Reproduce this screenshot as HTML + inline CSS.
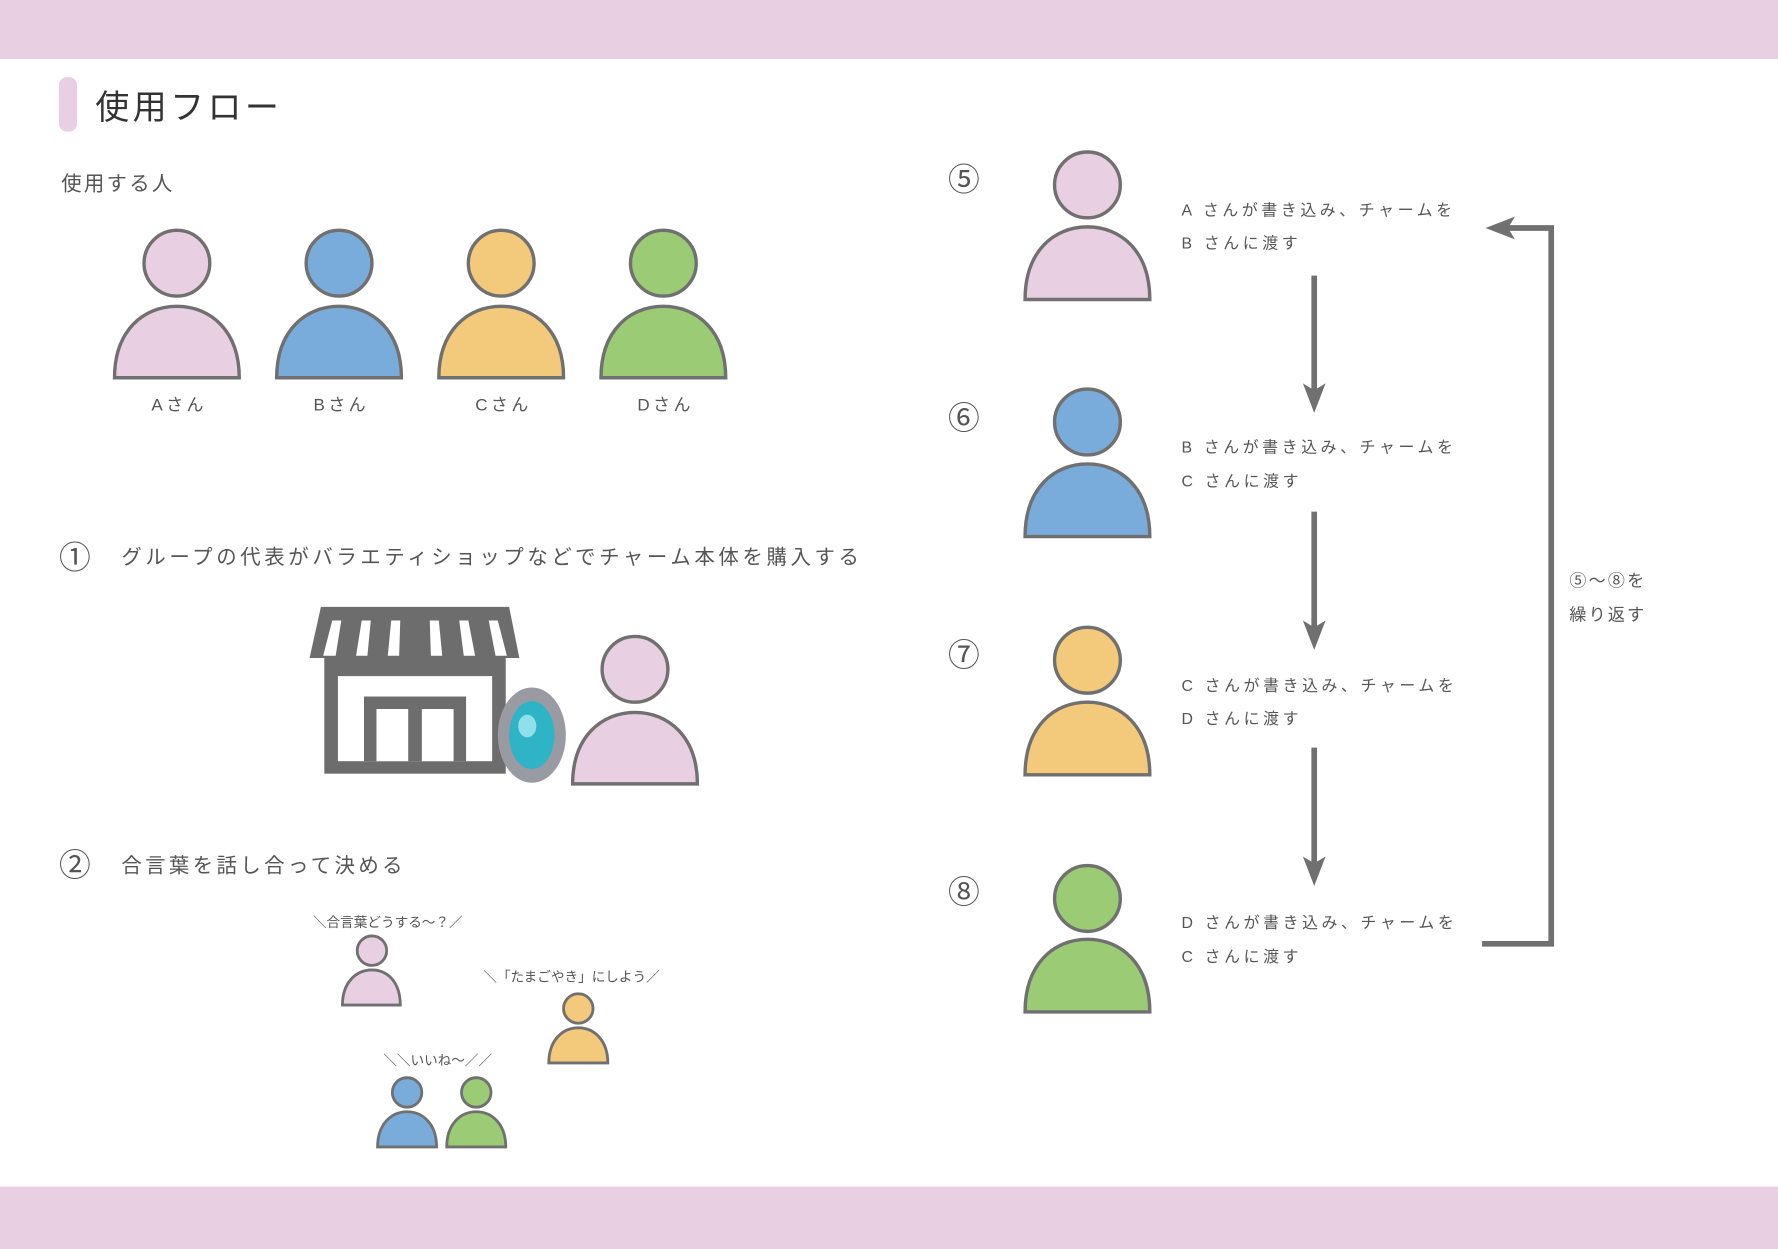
<!DOCTYPE html>
<html><head><meta charset="utf-8"><style>
html,body{margin:0;padding:0;background:#fff;}
svg{display:block;}
text{font-family:"Liberation Sans","Noto Sans CJK JP",sans-serif;fill:#555;}
</style></head><body>
<svg width="1778" height="1249" viewBox="0 0 1568 1101" preserveAspectRatio="none" xmlns="http://www.w3.org/2000/svg">
<rect x="0" y="0" width="1568" height="52" fill="#e8cfe1"/>
<rect x="0" y="1046" width="1568" height="55" fill="#e8cfe1"/>
<rect x="52" y="68" width="16" height="48" rx="7" fill="#e8cfe1"/>
<text x="84" y="105" font-size="30" style="fill:#333" letter-spacing="3">使用フロー</text>
<text x="54" y="168" font-size="18" letter-spacing="2">使用する人</text>

<g stroke="#707070" stroke-width="3">
<circle cx="156" cy="232" r="29" fill="#e8cfe1"/>
<path d="M101,333 C101,292 126,270 156,270 C186,270 211,292 211,333 Z" fill="#e8cfe1"/>
<circle cx="299" cy="232" r="29" fill="#7aacdb"/>
<path d="M244,333 C244,292 269,270 299,270 C329,270 354,292 354,333 Z" fill="#7aacdb"/>
<circle cx="442" cy="232" r="29" fill="#f3c97b"/>
<path d="M387,333 C387,292 412,270 442,270 C472,270 497,292 497,333 Z" fill="#f3c97b"/>
<circle cx="585" cy="232" r="29" fill="#9bcb74"/>
<path d="M530,333 C530,292 555,270 585,270 C615,270 640,292 640,333 Z" fill="#9bcb74"/>
</g>
<g font-size="15" text-anchor="middle" letter-spacing="3">
<text x="158" y="362">Aさん</text><text x="301" y="362">Bさん</text>
<text x="444" y="362">Cさん</text><text x="587" y="362">Dさん</text>
</g>

<text x="52" y="501" font-size="28">①</text>
<text x="107" y="497" font-size="18" letter-spacing="3.2">グループの代表がバラエティショップなどでチャーム本体を購入する</text>

<g fill="#6d6d6d">
<path d="M283,535 L449,535 L458,580 L273,580 Z"/>
<rect x="286" y="580" width="160" height="102"/>
</g>
<g fill="#fff">
<path d="M293,547 L301,547 L296,578 L285,578 Z"/>
<path d="M319,547 L327,547 L324,578 L314,578 Z"/>
<path d="M345,547 L353,547 L352,578 L342,578 Z"/>
<path d="M379,547 L387,547 L390,578 L380,578 Z"/>
<path d="M405,547 L413,547 L419,578 L409,578 Z"/>
<path d="M431,547 L439,547 L447,578 L437,578 Z"/>
<rect x="298" y="596" width="136" height="75"/>
</g>
<rect x="321" y="614" width="90" height="57" fill="#6d6d6d"/>
<rect x="332" y="625" width="28" height="46" fill="#fff"/>
<rect x="372" y="625" width="28" height="46" fill="#fff"/>
<ellipse cx="469" cy="648" rx="30" ry="42" fill="#9a9aa2"/>
<ellipse cx="469" cy="648" rx="20" ry="30" fill="#2fb3c6"/>
<ellipse cx="465" cy="640" rx="8" ry="10" fill="#8fe0ea"/>
<g stroke="#707070" stroke-width="3">
<circle cx="560" cy="590" r="29" fill="#e8cfe1"/>
<path d="M505,691 C505,650 530,628 560,628 C590,628 615,650 615,691 Z" fill="#e8cfe1"/>
</g>

<text x="52" y="772" font-size="28">②</text>
<text x="107" y="769" font-size="18" letter-spacing="3">合言葉を話し合って決める</text>

<g font-size="12" text-anchor="middle">
<text x="342" y="817">＼合言葉どうする～？／</text>
<text x="504" y="865">＼「たまごやき」にしよう／</text>
<text x="386" y="939">＼＼いいね～／／</text>
</g>
<g stroke="#707070" stroke-width="2.5">
<circle cx="328" cy="838" r="13" fill="#e8cfe1"/>
<path d="M302,886 C302,866 314,855 328,855 C342,855 353,866 353,886 Z" fill="#e8cfe1"/>
<circle cx="510" cy="889" r="13" fill="#f3c97b"/>
<path d="M484,937 C484,917 496,906 510,906 C524,906 536,917 536,937 Z" fill="#f3c97b"/>
<circle cx="359" cy="963" r="13" fill="#7aacdb"/>
<path d="M333,1011 C333,991 345,980 359,980 C373,980 385,991 385,1011 Z" fill="#7aacdb"/>
<circle cx="420" cy="963" r="13" fill="#9bcb74"/>
<path d="M394,1011 C394,991 406,980 420,980 C434,980 446,991 446,1011 Z" fill="#9bcb74"/>
</g>

<g font-size="28" style="fill:#333">
<text x="836" y="168">⑤</text><text x="836" y="378">⑥</text>
<text x="836" y="587">⑦</text><text x="836" y="796">⑧</text>
</g>
<g stroke="#707070" stroke-width="3">
<circle cx="959" cy="163" r="29" fill="#e8cfe1"/>
<path d="M904,264 C904,222 929,200 959,200 C989,200 1014,222 1014,264 Z" fill="#e8cfe1"/>
<circle cx="959" cy="372" r="29" fill="#7aacdb"/>
<path d="M904,473 C904,431 929,409 959,409 C989,409 1014,431 1014,473 Z" fill="#7aacdb"/>
<circle cx="959" cy="582" r="29" fill="#f3c97b"/>
<path d="M904,683 C904,641 929,619 959,619 C989,619 1014,641 1014,683 Z" fill="#f3c97b"/>
<circle cx="959" cy="792" r="29" fill="#9bcb74"/>
<path d="M904,892 C904,850 929,828 959,828 C989,828 1014,850 1014,892 Z" fill="#9bcb74"/>
</g>
<g font-size="14" letter-spacing="3.2">
<text x="1042" y="190">A さんが書き込み、チャームを</text><text x="1042" y="219">B さんに渡す</text>
<text x="1042" y="399">B さんが書き込み、チャームを</text><text x="1042" y="429">C さんに渡す</text>
<text x="1042" y="609">C さんが書き込み、チャームを</text><text x="1042" y="638">D さんに渡す</text>
<text x="1042" y="818">D さんが書き込み、チャームを</text><text x="1042" y="848">C さんに渡す</text>
</g>
<g stroke="#707070" stroke-width="5" fill="none">
<line x1="1159" y1="243" x2="1159" y2="345"/>
<line x1="1159" y1="451" x2="1159" y2="554"/>
<line x1="1159" y1="659" x2="1159" y2="762"/>
<polyline points="1307,832 1368,832 1368,201 1328,201"/>
</g>
<g fill="#707070">
<path d="M1149,338 L1159,364 L1169,338 L1159,344 Z"/>
<path d="M1149,547 L1159,573 L1169,547 L1159,553 Z"/>
<path d="M1149,755 L1159,781 L1169,755 L1159,761 Z"/>
<path d="M1336,191 L1310,201 L1336,211 L1330,201 Z"/>
</g>
<g font-size="15" letter-spacing="2">
<text x="1384" y="517">⑤～⑧を</text>
<text x="1384" y="547">繰り返す</text>
</g>
</svg>
</body></html>
